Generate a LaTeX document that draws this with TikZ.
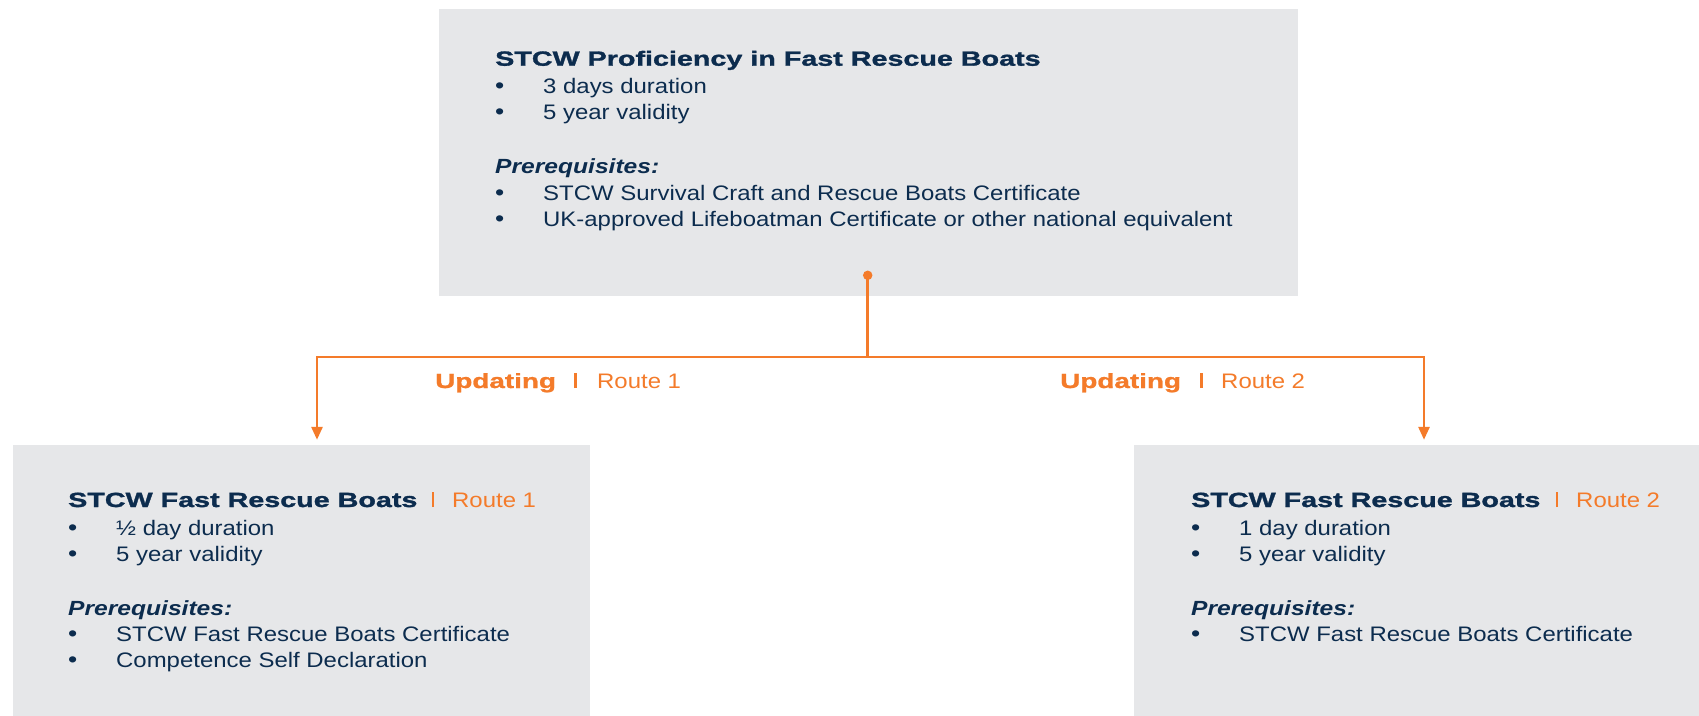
\documentclass[tikz,border=0pt]{standalone}
\usepackage{fontspec}
\usetikzlibrary{arrows.meta}
\setmainfont{Liberation Sans}
\newfontfamily\bodyf[FakeStretch=1.14]{Liberation Sans}
\newfontfamily\headf[FakeStretch=1.40,FakeBold=1.5]{Liberation Sans Bold}
\newfontfamily\updf[FakeStretch=1.36,FakeBold=1.2]{Liberation Sans Bold}
\newfontfamily\prereqf[FakeStretch=1.2]{Liberation Sans Bold Italic}
\definecolor{navy}{HTML}{0C2C4E}
\definecolor{orng}{HTML}{F47B2A}
\definecolor{boxgray}{HTML}{E6E7E9}
\tikzset{
  panel/.style={fill=boxgray, draw=none, inner sep=0pt},
  headtxt/.style={anchor=base west, inner sep=0pt, text=navy, font=\fontsize{20.5}{26}\headf},
  bodytxt/.style={anchor=base west, inner sep=0pt, text=navy, font=\fontsize{21}{26}\bodyf},
  pretxt/.style={anchor=base west, inner sep=0pt, text=navy, font=\fontsize{20.5}{26}\prereqf},
  bultxt/.style={anchor=base west, inner sep=0pt, text=navy, font=\fontsize{23}{26}\bodyf},
  updtxt/.style={anchor=base west, inner sep=0pt, text=orng, font=\fontsize{20.5}{26}\updf},
  routetxt/.style={anchor=base west, inner sep=0pt, text=orng, font=\fontsize{21}{26}\bodyf},
  barnode/.style={anchor=base west, inner sep=0pt, text=orng},
  conn/.style={draw=orng, line width=2.7pt},
  arr/.style={conn, -{Triangle[length=13pt,width=11pt]}, shorten >=5pt},
}
\begin{document}
\begin{tikzpicture}[x=1pt,y=-1pt]
\useasboundingbox[fill=white] (0,0) rectangle (1699,715);
% panels
\node[panel, minimum width=859pt, minimum height=287pt] (top) at (868.5,152.5) {};
\node[panel, minimum width=577pt, minimum height=272pt] (lbox) at (301.5,581) {};
\node[panel, minimum width=566pt, minimum height=272pt] (rbox) at (1417,581) {};

% top panel text
\node[headtxt] (t0) at (495,65.7) {STCW Proficiency in Fast Rescue Boats};
\node[bultxt] (tb1) at (495,93) {•};
\node[bodytxt] (t1) at (543,93) {3 days duration};
\node[bultxt] (tb2) at (495,119) {•};
\node[bodytxt] (t2) at (543,119) {5 year validity};
\node[pretxt] (tp) at (495,173) {Prerequisites:};
\node[bultxt] (tb3) at (495,200) {•};
\node[bodytxt] (t3) at (543,200) {STCW Survival Craft and Rescue Boats Certificate};
\node[bultxt] (tb4) at (495,226) {•};
\node[bodytxt] (t4) at (543,226) {UK-approved Lifeboatman Certificate or other national equivalent};

% left panel text
\node[headtxt] (l0) at (68,507) {STCW Fast Rescue Boats};
\node[barnode] (lbar) at (432,507) {\rule{2pt}{15pt}};
\node[routetxt] (lr) at (452,507) {Route 1};
\node[bultxt] (lb1) at (68,535) {•};
\node[bodytxt] (l1) at (116,535) {½ day duration};
\node[bultxt] (lb2) at (68,561) {•};
\node[bodytxt] (l2) at (116,561) {5 year validity};
\node[pretxt] (lp) at (68,615) {Prerequisites:};
\node[bultxt] (lb3) at (68,641) {•};
\node[bodytxt] (l3) at (116,641) {STCW Fast Rescue Boats Certificate};
\node[bultxt] (lb4) at (68,667) {•};
\node[bodytxt] (l4) at (116,667) {Competence Self Declaration};

% right panel text
\node[headtxt] (r0) at (1191,507) {STCW Fast Rescue Boats};
\node[barnode] (rbar) at (1556,507) {\rule{2pt}{15pt}};
\node[routetxt] (rr) at (1576,507) {Route 2};
\node[bultxt] (rb1) at (1191,535) {•};
\node[bodytxt] (r1) at (1239,535) {1 day duration};
\node[bultxt] (rb2) at (1191,561) {•};
\node[bodytxt] (r2) at (1239,561) {5 year validity};
\node[pretxt] (rp) at (1191,615) {Prerequisites:};
\node[bultxt] (rb3) at (1191,641) {•};
\node[bodytxt] (r3) at (1239,641) {STCW Fast Rescue Boats Certificate};

% route labels
\node[updtxt] (u1) at (435,388) {Updating};
\node[barnode] (u1bar) at (574,388) {\rule{3pt}{15pt}};
\node[routetxt] (u1r) at (597,388) {Route 1};
\node[updtxt] (u2) at (1060,388) {Updating};
\node[barnode] (u2bar) at (1200,388) {\rule{3pt}{15pt}};
\node[routetxt] (u2r) at (1221,388) {Route 2};

% connectors
\node[circle, fill=orng, inner sep=0pt, minimum size=9.5pt] (dot) at (867.7,275.3) {};
\coordinate (j) at (867.7,357);
\coordinate (jl) at (317,357);
\coordinate (jr) at (1424,357);
\draw[conn] (dot.center) -- (j);
\draw[arr] (j) -- (jl) -- (lbox.north -| jl);
\draw[arr] (j) -- (jr) -- (rbox.north -| jr);
\end{tikzpicture}
\end{document}
